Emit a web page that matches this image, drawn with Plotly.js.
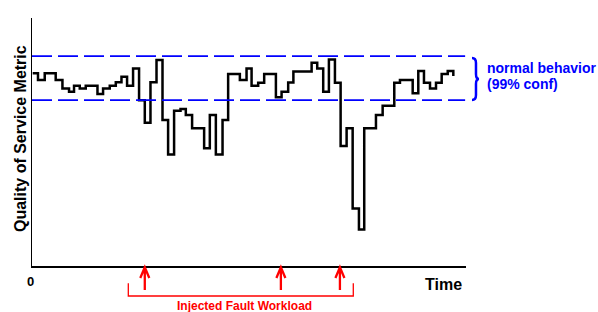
<!DOCTYPE html>
<html>
<head>
<meta charset="utf-8">
<script src="https://cdn.plot.ly/plotly-3.0.1.min.js"></script>
<style>html,body{margin:0;padding:0;background:#fff;}#chart{width:598px;height:312px;}</style>
</head>
<body>
<div id="chart"></div>
<script>
// Change points of the quality-of-service metric (time units) and the value from each point on
const times = [0, 1.21, 2.75, 5.26, 6.80, 8.31, 9.45, 10.76, 12.13, 14.81, 16.09, 17.62, 19.0, 20.30, 21.58,
  22.95, 24.32, 25.63, 26.93, 28.31, 29.68, 30.96, 32.33, 33.80, 35.01, 36.45, 39.20, 40.50, 41.88, 43.41,
  44.69, 47.37, 48.90, 50.05, 51.56, 52.93, 55.61, 56.91, 58.42, 59.61, 63.78, 65.06, 66.43, 67.73, 69.11,
  70.41, 71.78, 73.16, 74.60, 75.81, 78.49, 80.02, 82.68, 83.98, 86.89, 88.17, 89.47, 90.85, 92.22, 93.52,
  94.90, 96.18];
const qos = [75.3, 72.7, 75.3, 72.7, 69.4, 68.1, 70.4, 69.4, 70.4, 67.2, 69.4, 70.4, 71.8, 73.9, 70.4,
  77.2, 64.8, 56.0, 71.8, 80.5, 57.0, 43.6, 60.7, 61.3, 59.0, 53.8, 46.0, 59.0, 43.6, 57.0,
  75.0, 72.7, 77.2, 70.4, 71.6, 75.0, 65.9, 68.1, 71.7, 76.0, 79.4, 77.2, 68.1, 80.7, 71.6,
  46.9, 53.8, 22.5, 14.3, 53.8, 59.0, 62.6, 71.6, 72.7, 67.5, 76.2, 71.6, 69.4, 71.6, 75.0,
  76.2, 74.2];
// 99% confidence band of normal behaviour
const bandUpper = 82.0;
const bandLower = 64.8;
// Times at which faults were injected
const faultTimes = [25.63, 56.75, 70.25];

const labels = {
  yTitle: 'Quality of Service Metric',
  xTitle: 'Time',
  zero: '0',
  band1: 'normal behavior',
  band2: '(99% conf)',
  fault: 'Injected Fault Workload'
};

const FONT = 'Liberation Sans, Arial, sans-serif';
const BLUE = '#0000ff';
const RED = '#ff0000';

const shapes = [];
[bandUpper, bandLower].forEach(v => {
  shapes.push({type: 'line', xref: 'paper', yref: 'y', x0: 0, x1: 0.998, y0: v, y1: v,
    line: {color: BLUE, width: 1.8, dash: '20px,6px'}});
});
// brace
shapes.push({type: 'path', xref: 'paper', yref: 'paper',
  path: 'M 1.0138,0.8387 Q 1.023,0.8387 1.023,0.8185 L 1.023,0.7742 Q 1.023,0.754 1.030,0.754 Q 1.023,0.754 1.023,0.7339 L 1.023,0.6895 Q 1.023,0.6694 1.0138,0.6694',
  line: {color: BLUE, width: 2.5}});
// fault arrows
const dx = 1.03;
faultTimes.forEach(t => {
  shapes.push({type: 'path', xref: 'x', yref: 'paper',
    path: `M ${t},-0.0968 L ${t},-0.0052 M ${t - dx},-0.0484 L ${t},-0.0052 L ${t + dx},-0.0484`,
    line: {color: RED, width: 2.3}});
});
// bracket
shapes.push({type: 'path', xref: 'paper', yref: 'paper',
  path: 'M 0.2219,-0.0698 L 0.2219,-0.1210 L 0.7403,-0.1210 L 0.7403,-0.0698',
  line: {color: RED, width: 1.3}});

const annotations = [
  {text: '<b>' + labels.yTitle + '</b>', xref: 'paper', yref: 'paper', x: -0.0276, y: 0.512,
   textangle: -90, showarrow: false, font: {family: FONT, size: 16, color: '#000'}, xanchor: 'center', yanchor: 'middle'},
  {text: '<b>' + labels.zero + '</b>', xref: 'paper', yref: 'paper', x: -0.003, y: -0.0605,
   showarrow: false, font: {family: FONT, size: 13, color: '#000'}, xanchor: 'center', yanchor: 'middle'},
  {text: '<b>' + labels.xTitle + '</b>', xref: 'paper', yref: 'paper', x: 0.948, y: -0.0766,
   showarrow: false, font: {family: FONT, size: 16, color: '#000'}, xanchor: 'center', yanchor: 'middle'},
  {text: '<b>' + labels.band1 + '</b>', xref: 'paper', yref: 'paper', x: 1.0461, y: 0.7972,
   showarrow: false, font: {family: FONT, size: 14, color: BLUE}, xanchor: 'left', yanchor: 'middle', borderpad: 0},
  {text: '<b>' + labels.band2 + '</b>', xref: 'paper', yref: 'paper', x: 1.0461, y: 0.7339,
   showarrow: false, font: {family: FONT, size: 14, color: BLUE}, xanchor: 'left', yanchor: 'middle', borderpad: 0},
  {text: '<b>' + labels.fault + '</b>', xref: 'paper', yref: 'paper', x: 0.4892, y: -0.1613,
   showarrow: false, font: {family: FONT, size: 12, color: RED}, xanchor: 'center', yanchor: 'middle'}
];

const trace = {
  x: times, y: qos, type: 'scatter', mode: 'lines',
  line: {shape: 'hv', color: '#000', width: 2.5},
  hoverinfo: 'skip', showlegend: false
};

const layout = {
  width: 598, height: 312,
  margin: {l: 32, r: 132, t: 18, b: 46, pad: 0},
  paper_bgcolor: '#fff', plot_bgcolor: '#fff',
  showlegend: false,
  xaxis: {range: [-0.16, 99.08], showline: true, linecolor: '#000', linewidth: 1.5,
    showgrid: false, zeroline: false, showticklabels: false, ticks: '', fixedrange: true},
  yaxis: {range: [0, 96.9], showline: true, linecolor: '#000', linewidth: 1.5,
    showgrid: false, zeroline: false, showticklabels: false, ticks: '', fixedrange: true},
  shapes: shapes,
  annotations: annotations
};

Plotly.newPlot('chart', [trace], layout, {staticPlot: true, displayModeBar: false});
</script>
</body>
</html>
